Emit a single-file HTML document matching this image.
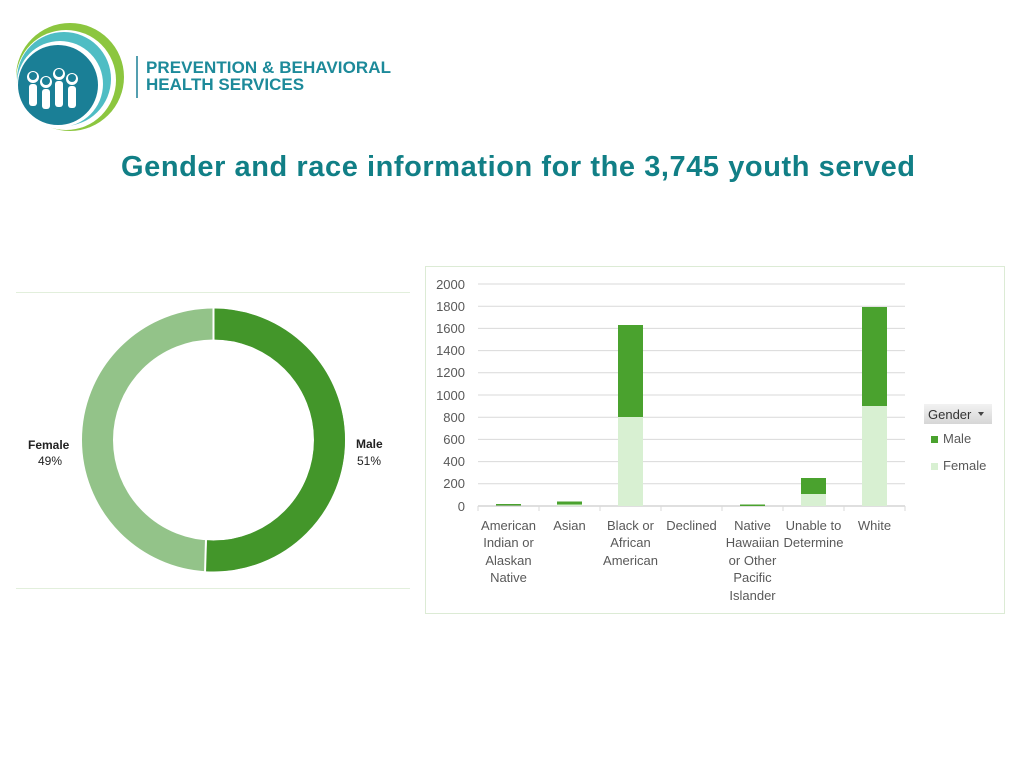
<!DOCTYPE html>
<html><head><meta charset="utf-8"><style>
html,body{margin:0;padding:0;background:#fff;}
body{width:1024px;height:768px;position:relative;overflow:hidden;font-family:"Liberation Sans",sans-serif;}
</style></head><body>
<svg width="1024" height="768" style="position:absolute;left:0;top:0" font-family="Liberation Sans, sans-serif">
<!-- logo -->
<circle cx="70" cy="77" r="54" fill="#8cc63f"/>
<circle cx="66" cy="80" r="50" fill="#fff"/>
<circle cx="64" cy="79" r="47" fill="#4fbdc4"/>
<circle cx="60" cy="84" r="43" fill="#fff"/>
<circle cx="58" cy="85" r="40" fill="#1a7f96"/>
<g fill="#fff">
<circle cx="33" cy="77" r="6"/><circle cx="46" cy="82" r="6"/><circle cx="59" cy="74" r="6"/><circle cx="72" cy="79" r="6"/>
<rect x="29" y="84" width="8" height="22" rx="3"/><rect x="42" y="89" width="8" height="20" rx="3"/><rect x="55" y="81" width="8" height="26" rx="3"/><rect x="68" y="86" width="8" height="22" rx="3"/>
</g>
<g fill="#1a7f96"><circle cx="33" cy="76" r="4"/><circle cx="46" cy="81" r="4"/><circle cx="59" cy="73" r="4"/><circle cx="72" cy="78" r="4"/></g>
<line x1="137" y1="56" x2="137" y2="98" stroke="#1a7f96" stroke-width="1.5"/>
<text x="146" y="73" font-size="17" font-weight="bold" fill="#1d8a9a" textLength="245">PREVENTION &amp; BEHAVIORAL</text>
<text x="146" y="90" font-size="17" font-weight="bold" fill="#1d8a9a">HEALTH SERVICES</text>
<!-- title -->
<text x="518" y="176" font-size="29" font-weight="bold" fill="#117f86" text-anchor="middle" textLength="794">Gender and race information for the 3,745 youth served</text>
<!-- donut -->
<line x1="16" y1="292.5" x2="410" y2="292.5" stroke="#e2efdc" stroke-width="1"/>
<line x1="16" y1="588.5" x2="410" y2="588.5" stroke="#e2efdc" stroke-width="1"/>
<circle cx="213.5" cy="440" r="116" fill="none" stroke="#93c389" stroke-width="31"/>
<circle cx="213.5" cy="440" r="116" fill="none" stroke="#43962a" stroke-width="31" stroke-dasharray="371.7 1000" transform="rotate(-90 213.5 440)"/>
<line x1="213.5" y1="307" x2="213.5" y2="340" stroke="#fff" stroke-width="2"/>
<line x1="206" y1="539" x2="205" y2="573" stroke="#fff" stroke-width="2"/>
<text x="28" y="449" font-size="12" font-weight="bold" fill="#222">Female</text>
<text x="38" y="465" font-size="12" fill="#222">49%</text>
<text x="356" y="448" font-size="12" font-weight="bold" fill="#222">Male</text>
<text x="357" y="465" font-size="12" fill="#222">51%</text>
<!-- bar chart -->
<rect x="425.5" y="266.5" width="579" height="347" fill="#fff" stroke="#dcebd5"/>
<g stroke="#d9d9d9" stroke-width="1">
<line x1="478" y1="284" x2="905" y2="284"/><line x1="478" y1="306.2" x2="905" y2="306.2"/><line x1="478" y1="328.4" x2="905" y2="328.4"/>
<line x1="478" y1="350.6" x2="905" y2="350.6"/><line x1="478" y1="372.8" x2="905" y2="372.8"/><line x1="478" y1="395" x2="905" y2="395"/>
<line x1="478" y1="417.2" x2="905" y2="417.2"/><line x1="478" y1="439.4" x2="905" y2="439.4"/><line x1="478" y1="461.6" x2="905" y2="461.6"/>
<line x1="478" y1="483.8" x2="905" y2="483.8"/>
<line x1="478" y1="506" x2="905" y2="506" stroke="#bfbfbf"/>
<line x1="478" y1="506" x2="478" y2="511"/><line x1="539" y1="506" x2="539" y2="511"/><line x1="600" y1="506" x2="600" y2="511"/><line x1="661" y1="506" x2="661" y2="511"/><line x1="722" y1="506" x2="722" y2="511"/><line x1="783" y1="506" x2="783" y2="511"/><line x1="844" y1="506" x2="844" y2="511"/><line x1="905" y1="506" x2="905" y2="511"/>
</g>
<g font-size="13" fill="#595959" text-anchor="end">
<text x="465" y="289">2000</text><text x="465" y="311">1800</text><text x="465" y="333">1600</text><text x="465" y="355">1400</text><text x="465" y="377">1200</text><text x="465" y="400">1000</text><text x="465" y="422">800</text><text x="465" y="444">600</text><text x="465" y="466">400</text><text x="465" y="488">200</text><text x="465" y="511">0</text>
</g>
<!-- bars -->
<rect x="496" y="504" width="25" height="1.5" fill="#4aa22e"/>
<rect x="557" y="501.5" width="25" height="3" fill="#4aa22e"/><rect x="557" y="504.5" width="25" height="1.5" fill="#d8f0d2"/>
<rect x="618" y="417" width="25" height="89" fill="#d8f0d2"/><rect x="618" y="325" width="25" height="92" fill="#4aa22e"/>
<rect x="740" y="504.5" width="25" height="1.5" fill="#4aa22e"/>
<rect x="801" y="494" width="25" height="12" fill="#d8f0d2"/><rect x="801" y="478" width="25" height="16" fill="#4aa22e"/>
<rect x="862" y="406" width="25" height="100" fill="#d8f0d2"/><rect x="862" y="307" width="25" height="99" fill="#4aa22e"/>
<g font-size="13" fill="#595959" text-anchor="middle">
<text x="508.5" y="530">American</text><text x="508.5" y="547">Indian or</text><text x="508.5" y="565">Alaskan</text><text x="508.5" y="582">Native</text>
<text x="569.5" y="530">Asian</text>
<text x="630.5" y="530">Black or</text><text x="630.5" y="547">African</text><text x="630.5" y="565">American</text>
<text x="691.5" y="530">Declined</text>
<text x="752.5" y="530">Native</text><text x="752.5" y="547">Hawaiian</text><text x="752.5" y="565">or Other</text><text x="752.5" y="582">Pacific</text><text x="752.5" y="600">Islander</text>
<text x="813.5" y="530">Unable to</text><text x="813.5" y="547">Determine</text>
<text x="874.5" y="530">White</text>
</g>
<defs><linearGradient id="g" x1="0" y1="0" x2="0" y2="1"><stop offset="0" stop-color="#f2f2f2"/><stop offset="1" stop-color="#d6d6d6"/></linearGradient></defs>
<rect x="924" y="404" width="68" height="20" fill="url(#g)"/>
<text x="928" y="419" font-size="13" fill="#333">Gender</text>
<path d="M978 412 L984 412 L981 416 Z" fill="#444"/>
<rect x="931" y="436" width="7" height="7" fill="#4aa22e"/>
<text x="943" y="443" font-size="13" fill="#595959">Male</text>
<rect x="931" y="463" width="7" height="7" fill="#d8f0d2"/>
<text x="943" y="470" font-size="13" fill="#595959">Female</text>
</svg>
</body></html>
